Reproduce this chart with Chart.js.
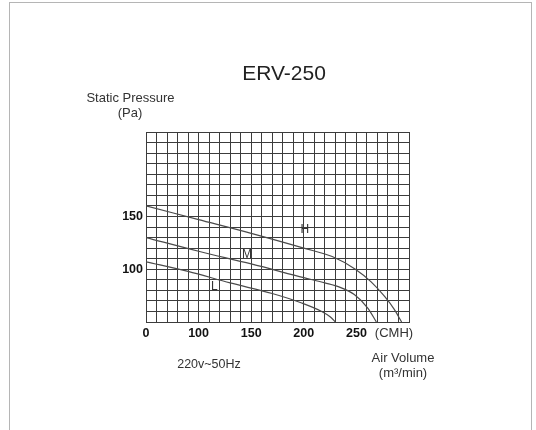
<!DOCTYPE html>
<html>
<head>
<meta charset="utf-8">
<script src="https://cdn.jsdelivr.net/npm/chart.js@4"></script>
<style>
  html, body { margin: 0; padding: 0; background: #fff; }
  #wrap { position: relative; width: 536px; height: 430px; overflow: hidden; }
  #frame { position: absolute; left: 9px; top: 2px; width: 523px; height: 450px; border: 1px solid #b5b5b5; box-sizing: border-box; }
  canvas { position: absolute; left: 0; top: 0; }
</style>
</head>
<body>
<div id="wrap">
  <div id="frame"></div>
  <canvas id="c" width="536" height="430"></canvas>
</div>
<script>
// ---- data (air volume CMH on the grid scale, static pressure Pa) ----
const hX = [50, 100, 150, 200, 227, 249, 264, 277, 286, 293];
const hY = [160, 147, 134, 120, 112, 100, 88, 74, 62, 50];
const mX = [50, 100, 150, 200, 220, 234, 248, 261, 269];
const mY = [130, 117, 105, 92, 87, 83, 76, 63, 50];
const lX = [50, 90, 130, 170, 198, 217, 225, 230];
const lY = [107, 98, 87, 77, 68, 60, 55, 50];

const seriesNames = ['H', 'M', 'L'];
const curveLabelX = [201, 146, 115];
const curveLabelY = [137, 113.5, 83.4];

const xTickValues = [50, 100, 150, 200, 250];
const xTickLabels = ['0', '100', '150', '200', '250'];
const yTickValues = [100, 150];
const yTickLabels = ['100', '150'];

const titleText = 'ERV-250';
const yTitleLines = ['Static Pressure', '(Pa)'];
const xTitleLines = ['Air Volume', '(m\u00B3/min)'];
const xUnitText = '(CMH)';
const noteText = '220v~50Hz';

const FONT = '"Liberation Sans", Arial, Helvetica, sans-serif';
const toPts = (xs, ys) => xs.map((x, i) => ({ x: x, y: ys[i] }));

const lineStyle = { borderColor: '#4a4a4a', borderWidth: 1.2, pointRadius: 0, fill: false, tension: 0.4, cubicInterpolationMode: 'monotone' };

const textPlugin = {
  id: 'texts',
  afterDraw(chart) {
    const ctx = chart.ctx;
    const xs = chart.scales.x, ys = chart.scales.y;
    ctx.save();
    ctx.textAlign = 'center';
    ctx.textBaseline = 'middle';
    ctx.fillStyle = '#222';
    ctx.font = '21px ' + FONT;
    ctx.fillText(titleText, 284, 74);
    ctx.fillStyle = '#333';
    ctx.font = '13px ' + FONT;
    ctx.fillText(yTitleLines[0], 130.5, 98);
    ctx.fillText(yTitleLines[1], 130, 113.5);
    ctx.fillText(xTitleLines[0], 403, 358.5);
    ctx.fillText(xTitleLines[1], 403, 373);
    ctx.fillText(xUnitText, 394, 333);
    ctx.font = '12.5px ' + FONT;
    ctx.fillText(noteText, 209, 365);
    ctx.font = '12px ' + FONT;
    ctx.fillStyle = '#333';
    seriesNames.forEach((n, i) => {
      ctx.fillText(n, xs.getPixelForValue(curveLabelX[i]), ys.getPixelForValue(curveLabelY[i]));
    });
    ctx.restore();
  }
};

new Chart(document.getElementById('c'), {
  type: 'line',
  data: {
    datasets: [
      Object.assign({ label: 'H', data: toPts(hX, hY) }, lineStyle),
      Object.assign({ label: 'M', data: toPts(mX, mY) }, lineStyle),
      Object.assign({ label: 'L', data: toPts(lX, lY) }, lineStyle)
    ]
  },
  options: {
    responsive: false,
    animation: false,
    devicePixelRatio: 1,
    layout: { padding: { left: 0, top: 132, right: 127, bottom: 78 } },
    plugins: { legend: { display: false }, tooltip: { enabled: false }, title: { display: false } },
    scales: {
      x: {
        type: 'linear', min: 50, max: 300,
        afterBuildTicks(scale) {
          const t = [];
          for (let v = 50; v <= 300; v += 10) t.push({ value: v });
          scale.ticks = t;
        },
        afterFit(scale) { scale.height = 30; },
        grid: { color: '#3c3c3c', lineWidth: 1, drawTicks: false },
        border: { color: '#3c3c3c', width: 1 },
        ticks: {
          autoSkip: false, maxRotation: 0, padding: 4, color: '#111',
          font: { family: FONT, size: 12.5, weight: 'bold' },
          callback(v) { const i = xTickValues.indexOf(v); return i >= 0 ? xTickLabels[i] : ''; }
        }
      },
      y: {
        type: 'linear', min: 50, max: 230,
        afterBuildTicks(scale) {
          const t = [];
          for (let v = 50; v <= 230; v += 10) t.push({ value: v });
          scale.ticks = t;
        },
        afterFit(scale) { scale.width = 146; },
        grid: { color: '#3c3c3c', lineWidth: 1, drawTicks: false },
        border: { color: '#3c3c3c', width: 1 },
        ticks: {
          autoSkip: false, padding: 3, color: '#111',
          font: { family: FONT, size: 12.5, weight: 'bold' },
          callback(v) { const i = yTickValues.indexOf(v); return i >= 0 ? yTickLabels[i] : ''; }
        }
      }
    }
  },
  plugins: [textPlugin]
});
</script>
</body>
</html>
